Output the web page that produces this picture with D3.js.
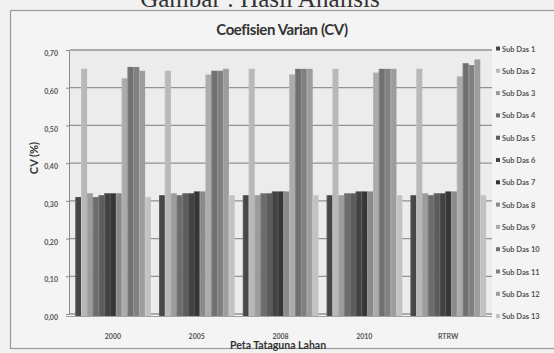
<!DOCTYPE html>
<html>
<head>
<meta charset="utf-8">
<script src="https://cdn.jsdelivr.net/npm/d3@7"></script>
<style>
  html, body { margin: 0; padding: 0; background: #f1f1f1; }
  svg { display: block; }
</style>
</head>
<body>
<svg id="chart" width="554" height="353"></svg>
<script>
// Land-use map periods (x categories)
const categories = ["2000", "2005", "2008", "2010", "RTRW"];
// Sub-watershed series names
const seriesNames = ["Sub Das 1", "Sub Das 2", "Sub Das 3", "Sub Das 4", "Sub Das 5", "Sub Das 6", "Sub Das 7",
                     "Sub Das 8", "Sub Das 9", "Sub Das 10", "Sub Das 11", "Sub Das 12", "Sub Das 13"];
// CV values per period, one entry per sub-watershed
const cv2000 = [0.31, 0.65, 0.32, 0.31, 0.315, 0.32, 0.32, 0.32, 0.625, 0.655, 0.655, 0.645, 0.31];
const cv2005 = [0.315, 0.645, 0.32, 0.315, 0.32, 0.32, 0.325, 0.325, 0.635, 0.645, 0.645, 0.65, 0.315];
const cv2008 = [0.315, 0.65, 0.315, 0.32, 0.32, 0.325, 0.325, 0.325, 0.635, 0.65, 0.65, 0.65, 0.315];
const cv2010 = [0.315, 0.65, 0.315, 0.32, 0.32, 0.325, 0.325, 0.325, 0.64, 0.65, 0.65, 0.65, 0.315];
const cvRTRW = [0.315, 0.65, 0.32, 0.315, 0.32, 0.32, 0.325, 0.325, 0.63, 0.665, 0.66, 0.675, 0.315];
// Y-axis ticks
const yTicks = [0, 0.1, 0.2, 0.3, 0.4, 0.5, 0.6, 0.7];
// Grey shades per series
const seriesColors = ["#474747", "#b8b8b8", "#9c9c9c", "#6c6c6c", "#5c5c5c", "#424242", "#363636",
                      "#8a8a8a", "#ababab", "#707070", "#808080", "#9d9d9d", "#c2c2c2"];

const values = [cv2000, cv2005, cv2008, cv2010, cvRTRW];

const svg = d3.select("#chart");

// Chart box
svg.append("rect")
  .attr("x", 10.5).attr("y", 10.5)
  .attr("width", 560).attr("height", 338)
  .attr("fill", "#f4f4f4")
  .attr("stroke", "#9a9a9a").attr("stroke-width", 1.2);

// Caption above the chart box (runs off the top edge of the page)
svg.append("text")
  .attr("x", 260).attr("y", 7)
  .attr("text-anchor", "middle")
  .attr("font-family", "Liberation Serif, serif")
  .attr("font-size", 25)
  .attr("fill", "#333")
  .text("Gambar : Hasil Analisis");

svg.append("text")
  .attr("x", 282).attr("y", 35)
  .attr("text-anchor", "middle")
  .attr("font-family", "Lato, sans-serif")
  .attr("font-weight", "bold")
  .attr("font-size", 15)
  .attr("letter-spacing", -0.4)
  .attr("fill", "#333")
  .text("Coefisien Varian (CV)");

const x = d3.scaleBand().domain(categories).range([71, 490]).paddingInner(0.1).paddingOuter(0.05);
const xs = d3.scaleBand().domain(seriesNames).range([0, x.bandwidth()]).padding(0);
const y = d3.scaleLinear().domain([0, 0.7]).range([314, 50]);

// Back wall
svg.append("rect")
  .attr("x", 70).attr("y", y(0.7))
  .attr("width", 422).attr("height", y(0) - y(0.7))
  .attr("fill", "#ececec");

// Gridlines
svg.append("g")
  .selectAll("line")
  .data(yTicks)
  .join("line")
  .attr("x1", 70).attr("x2", 492)
  .attr("y1", d => y(d)).attr("y2", d => y(d))
  .attr("stroke", "#929292").attr("stroke-width", 1.3);

// Bars
const groups = svg.append("g")
  .selectAll("g")
  .data(categories)
  .join("g")
  .attr("transform", d => `translate(${x(d)},0)`);

groups.selectAll("rect")
  .data((d, i) => seriesNames.map((s, j) => ({ s, j, v: values[i][j] })))
  .join("rect")
  .attr("x", d => xs(d.s))
  .attr("y", d => y(d.v))
  .attr("width", xs.bandwidth() + 0.3)
  .attr("height", d => y(0) - y(d.v) + 2)
  .attr("fill", d => seriesColors[d.j]);

// Thin highlight on the left edge of each bar for a shaded column look
groups.selectAll("line.edge")
  .data((d, i) => seriesNames.map((s, j) => ({ s, j, v: values[i][j] })))
  .join("line")
  .attr("class", "edge")
  .attr("x1", d => xs(d.s) + 0.5).attr("x2", d => xs(d.s) + 0.5)
  .attr("y1", d => y(d.v)).attr("y2", y(0) + 2)
  .attr("stroke", "#ffffff").attr("stroke-opacity", 0.15).attr("stroke-width", 1);

// Y axis
const yAxis = d3.axisLeft(y)
  .tickValues(yTicks)
  .tickFormat(d => d3.format(".2f")(d).replace(".", ","))
  .tickSize(3).tickPadding(8);

const gy = svg.append("g")
  .attr("transform", "translate(69,0)")
  .call(yAxis);
gy.select(".domain").attr("stroke", "#8a8a8a");
gy.selectAll(".tick line").attr("stroke", "#8a8a8a");
gy.selectAll(".tick text")
  .attr("dy", "0.8em")
  .attr("font-family", "Lato, sans-serif")
  .attr("font-weight", "bold")
  .attr("font-size", 7)
  .attr("fill", "#555");

// Floor line
svg.append("line")
  .attr("x1", 66).attr("x2", 492)
  .attr("y1", y(0) + 2.5).attr("y2", y(0) + 2.5)
  .attr("stroke", "#a0a0a0").attr("stroke-width", 1);

// X axis labels
const xAxis = d3.axisBottom(x).tickSize(0).tickPadding(20);
const gx = svg.append("g")
  .attr("transform", `translate(0,${y(0)})`)
  .call(xAxis);
gx.select(".domain").remove();
gx.selectAll(".tick text")
  .attr("font-family", "Lato, sans-serif")
  .attr("font-weight", "bold")
  .attr("font-size", 7)
  .attr("fill", "#555");

// Axis titles
svg.append("text")
  .attr("transform", "translate(38,158) rotate(-90)")
  .attr("text-anchor", "middle")
  .attr("font-family", "Lato, sans-serif")
  .attr("font-weight", "bold")
  .attr("font-size", 11)
  .attr("fill", "#333")
  .text("CV (%)");

svg.append("text")
  .attr("x", 278).attr("y", 349)
  .attr("text-anchor", "middle")
  .attr("font-family", "Lato, sans-serif")
  .attr("font-weight", "bold")
  .attr("font-size", 10.5)
  .attr("fill", "#333")
  .text("Peta Tataguna Lahan");

// Legend
const legend = svg.append("g")
  .selectAll("g")
  .data(seriesNames)
  .join("g")
  .attr("transform", (d, i) => `translate(496,${49 + i * 22.3})`);

legend.append("rect")
  .attr("x", 0).attr("y", -2.5)
  .attr("width", 4).attr("height", 4)
  .attr("fill", (d, i) => seriesColors[i]);

legend.append("text")
  .attr("x", 6).attr("y", 2.5)
  .attr("font-family", "Lato, sans-serif")
  .attr("font-weight", "bold")
  .attr("font-size", 7.5)
  .attr("fill", "#555")
  .text(d => d);
</script>
</body>
</html>
